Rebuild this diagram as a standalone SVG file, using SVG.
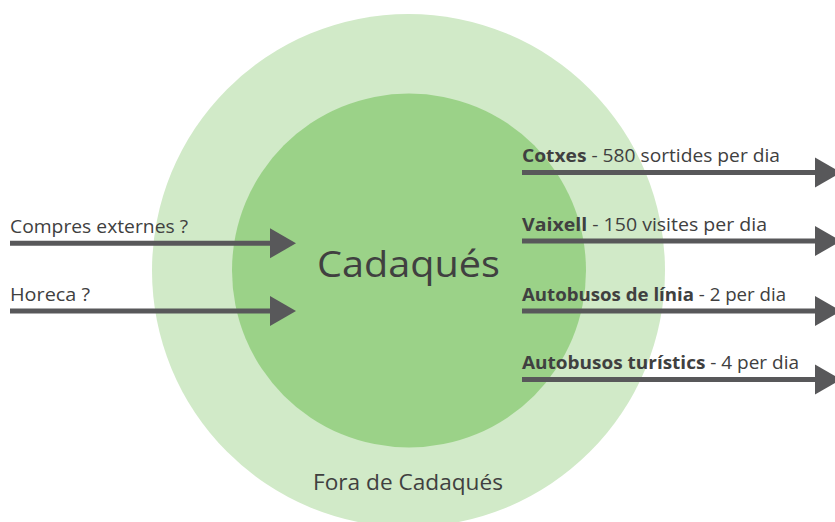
<svg xmlns="http://www.w3.org/2000/svg" width="835" height="522" viewBox="0 0 835 522">
<style>
.t{font-family:"Open Sans","Liberation Sans",sans-serif;fill:#404040;}
.lbl{font-size:18px;}
.b{font-weight:bold;}
.arr{stroke:#58585a;stroke-width:5;fill:none;marker-end:url(#ah);}
</style>
<defs>
<marker id="ah" markerUnits="userSpaceOnUse" markerWidth="26" markerHeight="30" refX="0" refY="15" orient="auto" overflow="visible">
<path d="M0,0 L26,15 L0,30 Z" fill="#58585a"/>
</marker>
</defs>
<rect width="835" height="522" fill="#ffffff"/>
<g id="fora">
<circle cx="408.5" cy="270.5" r="256.5" fill="#d1eac8"/>
<text class="t" x="313" y="490" font-size="21" textLength="190" lengthAdjust="spacingAndGlyphs">Fora de Cadaqués</text>
</g>
<g id="cadaques">
<circle cx="409" cy="270.5" r="177" fill="#9bd288"/>
<text class="t" x="317" y="277" font-size="37" textLength="183" lengthAdjust="spacingAndGlyphs">Cadaqués</text>
</g>
<g id="connectors">
<line class="arr" x1="10" y1="243.3" x2="270" y2="243.3"/>
<line class="arr" x1="10" y1="311" x2="270" y2="311"/>
<line class="arr" x1="522" y1="172.5" x2="815" y2="172.5"/>
<line class="arr" x1="522" y1="241" x2="815" y2="241"/>
<line class="arr" x1="522" y1="311" x2="815" y2="311"/>
<line class="arr" x1="522" y1="379.5" x2="815" y2="379.5"/>
<text class="t lbl" x="10" y="233" textLength="178" lengthAdjust="spacingAndGlyphs">Compres externes ?</text>
<text class="t lbl" x="10" y="301" textLength="80" lengthAdjust="spacingAndGlyphs">Horeca ?</text>
<text class="t lbl" x="522" y="162" textLength="258" lengthAdjust="spacingAndGlyphs"><tspan class="b">Cotxes</tspan> - 580 sortides per dia</text>
<text class="t lbl" x="522" y="230.5" textLength="245" lengthAdjust="spacingAndGlyphs"><tspan class="b">Vaixell</tspan> - 150 visites per dia</text>
<text class="t lbl" x="522" y="300.5" textLength="264" lengthAdjust="spacingAndGlyphs"><tspan class="b">Autobusos de línia</tspan> - 2 per dia</text>
<text class="t lbl" x="522" y="369" textLength="277" lengthAdjust="spacingAndGlyphs"><tspan class="b">Autobusos turístics</tspan> - 4 per dia</text>
</g>
</svg>
